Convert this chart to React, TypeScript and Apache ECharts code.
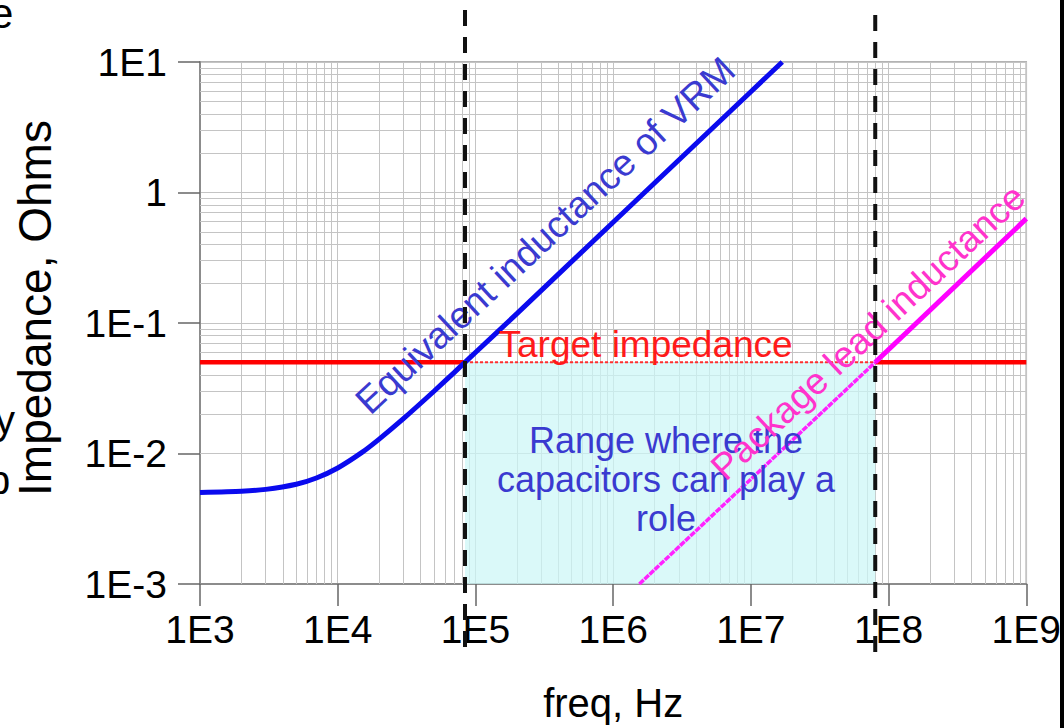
import React, { useEffect, useRef } from 'react';
import * as echarts from 'echarts';

// ---- tick labels ----
const X_TICK_EXPONENTS = [3, 4, 5, 6, 7, 8, 9];
const X_TICK_LABELS = ['1E3', '1E4', '1E5', '1E6', '1E7', '1E8', '1E9'];
const Y_TICK_EXPONENTS = [-3, -2, -1, 0, 1];
const Y_TICK_LABELS = ['1E-3', '1E-2', '1E-1', '1', '1E1'];
const MINOR_MULTIPLIERS = [2, 3, 4, 5, 6, 7, 8, 9];

// ---- series values ----
const VRM_FREQ = [1e3, 2e3, 3e3, 5e3, 7e3, 1e4, 1.5e4, 2e4, 3e4, 5e4, 7e4, 8.4e4, 1e5, 2e5, 1e6, 1e7, 1.69e7];
const VRM_Z = [0.00503, 0.00514, 0.00531, 0.00581, 0.00649, 0.00775, 0.0102, 0.0129, 0.0185, 0.03, 0.0417, 0.05, 0.0594, 0.118, 0.592, 5.92, 10];

const TARGET_Z = 0.05;
const TARGET_FREQ_BREAKS = [1e3, 8.4e4, 8e7, 1e9];

const PKG_FREQ = [1.55e6, 8e7, 1e9];
const PKG_Z = [0.001, 0.05, 0.63];

const RANGE_FREQ = [8.4e4, 8e7];
const RANGE_Z = [0.001, 0.05];

const MARKER_FREQ = [8.4e4, 8e7];

// annotation anchors in data units
const ANNOT_TEXTS = ['Equivalent inductance of VRM', 'Target impedance', 'Range where the\ncapacitors can play a\nrole', 'Package lead inductance'];
const ANNOT_FREQ = [3.2e5, 1.72e6, 2.42e6, 7.1e7];
const ANNOT_Z = [0.47, 0.069, 0.0063, 0.085];

const FONT = "'Liberation Sans', Arial, Helvetica, sans-serif";

export default function App() {
  const ref = useRef<HTMLDivElement>(null);

  useEffect(() => {
    document.body.style.margin = '0';
    const chart = echarts.init(ref.current!, undefined, { renderer: 'svg' });

    const xLabel = (v: number) => {
      const i = X_TICK_EXPONENTS.indexOf(Math.round(Math.log10(v)));
      return i >= 0 ? X_TICK_LABELS[i] : '';
    };
    const yLabel = (v: number) => {
      const i = Y_TICK_EXPONENTS.indexOf(Math.round(Math.log10(v)));
      return i >= 0 ? Y_TICK_LABELS[i] : '';
    };

    const minorX: any[] = [];
    X_TICK_EXPONENTS.slice(0, -1).forEach((e) =>
      MINOR_MULTIPLIERS.forEach((m) => minorX.push({ xAxis: m * Math.pow(10, e) }))
    );
    const minorY: any[] = [];
    Y_TICK_EXPONENTS.slice(0, -1).forEach((e) =>
      MINOR_MULTIPLIERS.forEach((m) => minorY.push({ yAxis: m * Math.pow(10, e) }))
    );

    const axisCommon = {
      type: 'log' as const,
      logBase: 10,
      axisLine: { show: true, lineStyle: { color: '#8c8c8c', width: 2 } },
      axisTick: { show: true, length: 22, inside: false, lineStyle: { color: '#666', width: 1.5 } },
      splitLine: { show: true, lineStyle: { color: '#c4c4c4', width: 1 } },
    };

    const option: any = {
      animation: false,
      grid: { left: 200, right: 34, top: 62, bottom: 139, show: true, borderColor: '#9a9a9a', borderWidth: 1.5 },
      xAxis: {
        ...axisCommon,
        min: 1e3,
        max: 1e9,
        name: 'freq, Hz',
        nameLocation: 'middle',
        nameGap: 99,
        nameTextStyle: { color: '#000', fontSize: 40, fontFamily: FONT },
        axisLabel: { color: '#000', fontSize: 39, fontFamily: FONT, margin: 26, formatter: xLabel },
      },
      yAxis: {
        ...axisCommon,
        min: 1e-3,
        max: 10,
        axisLabel: { color: '#000', fontSize: 39, fontFamily: FONT, margin: 33, formatter: yLabel },
      },
      series: [
        {
          type: 'line',
          data: [],
          z: 1,
          silent: true,
          markLine: {
            z: 1,
            silent: true,
            symbol: ['none', 'none'],
            label: { show: false },
            lineStyle: { color: '#c4c4c4', width: 1, type: 'solid' },
            data: [...minorX, ...minorY],
          },
        },
        {
          type: 'line',
          data: [],
          z: 2,
          silent: true,
          markArea: {
            z: 2,
            silent: true,
            itemStyle: { color: 'rgba(204,246,246,0.72)' },
            data: [[{ xAxis: RANGE_FREQ[0], yAxis: RANGE_Z[0] }, { xAxis: RANGE_FREQ[1], yAxis: RANGE_Z[1] }]],
          },
        },
        {
          name: 'target-left',
          type: 'line',
          z: 3,
          showSymbol: false,
          data: [[TARGET_FREQ_BREAKS[0], TARGET_Z], [TARGET_FREQ_BREAKS[1], TARGET_Z]],
          lineStyle: { color: '#ff0000', width: 4.5 },
        },
        {
          name: 'target-mid',
          type: 'line',
          z: 3,
          showSymbol: false,
          data: [[TARGET_FREQ_BREAKS[1], TARGET_Z], [TARGET_FREQ_BREAKS[2], TARGET_Z]],
          lineStyle: { color: '#ff3030', width: 2, type: [3, 2] },
        },
        {
          name: 'target-right',
          type: 'line',
          z: 3,
          showSymbol: false,
          data: [[TARGET_FREQ_BREAKS[2], TARGET_Z], [TARGET_FREQ_BREAKS[3], TARGET_Z]],
          lineStyle: { color: '#ff0000', width: 4.5 },
        },
        {
          name: 'pkg-inside',
          type: 'line',
          z: 3,
          showSymbol: false,
          data: [[PKG_FREQ[0], PKG_Z[0]], [PKG_FREQ[1], PKG_Z[1]]],
          lineStyle: { color: '#ff22ff', width: 3.5, type: [6, 1] },
        },
        {
          name: 'pkg-outside',
          type: 'line',
          z: 3,
          showSymbol: false,
          data: [[PKG_FREQ[1], PKG_Z[1]], [PKG_FREQ[2], PKG_Z[2]]],
          lineStyle: { color: '#ff00ff', width: 5 },
        },
        {
          name: 'vrm',
          type: 'line',
          z: 4,
          showSymbol: false,
          smooth: 0.2,
          data: VRM_FREQ.map((f, i) => [f, VRM_Z[i]]),
          lineStyle: { color: '#0a0aee', width: 5 },
        },
      ],
    };

    chart.setOption(option);

    const px = (x: number, y: number) => chart.convertToPixel({ seriesIndex: 7 }, [x, y]) as number[];
    const gridTop = px(1e3, 10)[1];
    const gridBottom = px(1e3, 1e-3)[1];

    const dashExt = [
      [52, 74],
      [47, 79],
    ];
    const dashed = MARKER_FREQ.map((f, i) => {
      const x = px(f, 1)[0];
      return {
        type: 'line',
        z: 100,
        silent: true,
        shape: { x1: x, y1: gridTop - dashExt[i][0], x2: x, y2: gridBottom + dashExt[i][1] },
        style: { stroke: '#111', lineWidth: 4, lineDash: [16, 11] },
      };
    });

    const annotStyles = [
      { color: '#3a3ad0', size: 37.5, rot: 43 },
      { color: '#ff1a1a', size: 37, rot: 0 },
      { color: '#3a3ad0', size: 36, rot: 0 },
      { color: '#ff33cc', size: 37, rot: 43 },
    ];
    const annots = ANNOT_TEXTS.map((t, i) => {
      const p = px(ANNOT_FREQ[i], ANNOT_Z[i]);
      return {
        type: 'text',
        z: 90,
        silent: true,
        x: p[0],
        y: p[1],
        rotation: (annotStyles[i].rot * Math.PI) / 180,
        style: {
          text: t,
          fill: annotStyles[i].color,
          fontSize: annotStyles[i].size,
          fontFamily: FONT,
          align: 'center',
          verticalAlign: 'middle',
          lineHeight: 39,
        },
      };
    });

    const extras = [
      {
        type: 'text',
        z: 90,
        silent: true,
        x: 35,
        y: 308,
        rotation: Math.PI / 2,
        style: { text: 'Impedance, Ohms', fill: '#000', fontSize: 46, fontFamily: FONT, align: 'center', verticalAlign: 'middle' },
      },
      { type: 'text', z: 90, silent: true, x: -10, y: 13, style: { text: 'e', fill: '#000', fontSize: 42, fontFamily: FONT, align: 'left', verticalAlign: 'middle' } },
      { type: 'text', z: 90, silent: true, x: -5, y: 420, style: { text: 'y', fill: '#000', fontSize: 40, fontFamily: FONT, align: 'left', verticalAlign: 'middle' } },
      { type: 'text', z: 90, silent: true, x: -12, y: 480, style: { text: 'p', fill: '#000', fontSize: 40, fontFamily: FONT, align: 'left', verticalAlign: 'middle' } },
      { type: 'rect', z: 110, silent: true, shape: { x: 1060, y: 0, width: 4, height: 728 }, style: { fill: '#000' } },
    ];

    chart.setOption({ graphic: [...dashed, ...annots, ...extras] });

    return () => chart.dispose();
  }, []);

  return <div ref={ref} style={{ position: 'fixed', left: 0, top: 0, width: 1064, height: 728, background: '#fff' }} />;
}
